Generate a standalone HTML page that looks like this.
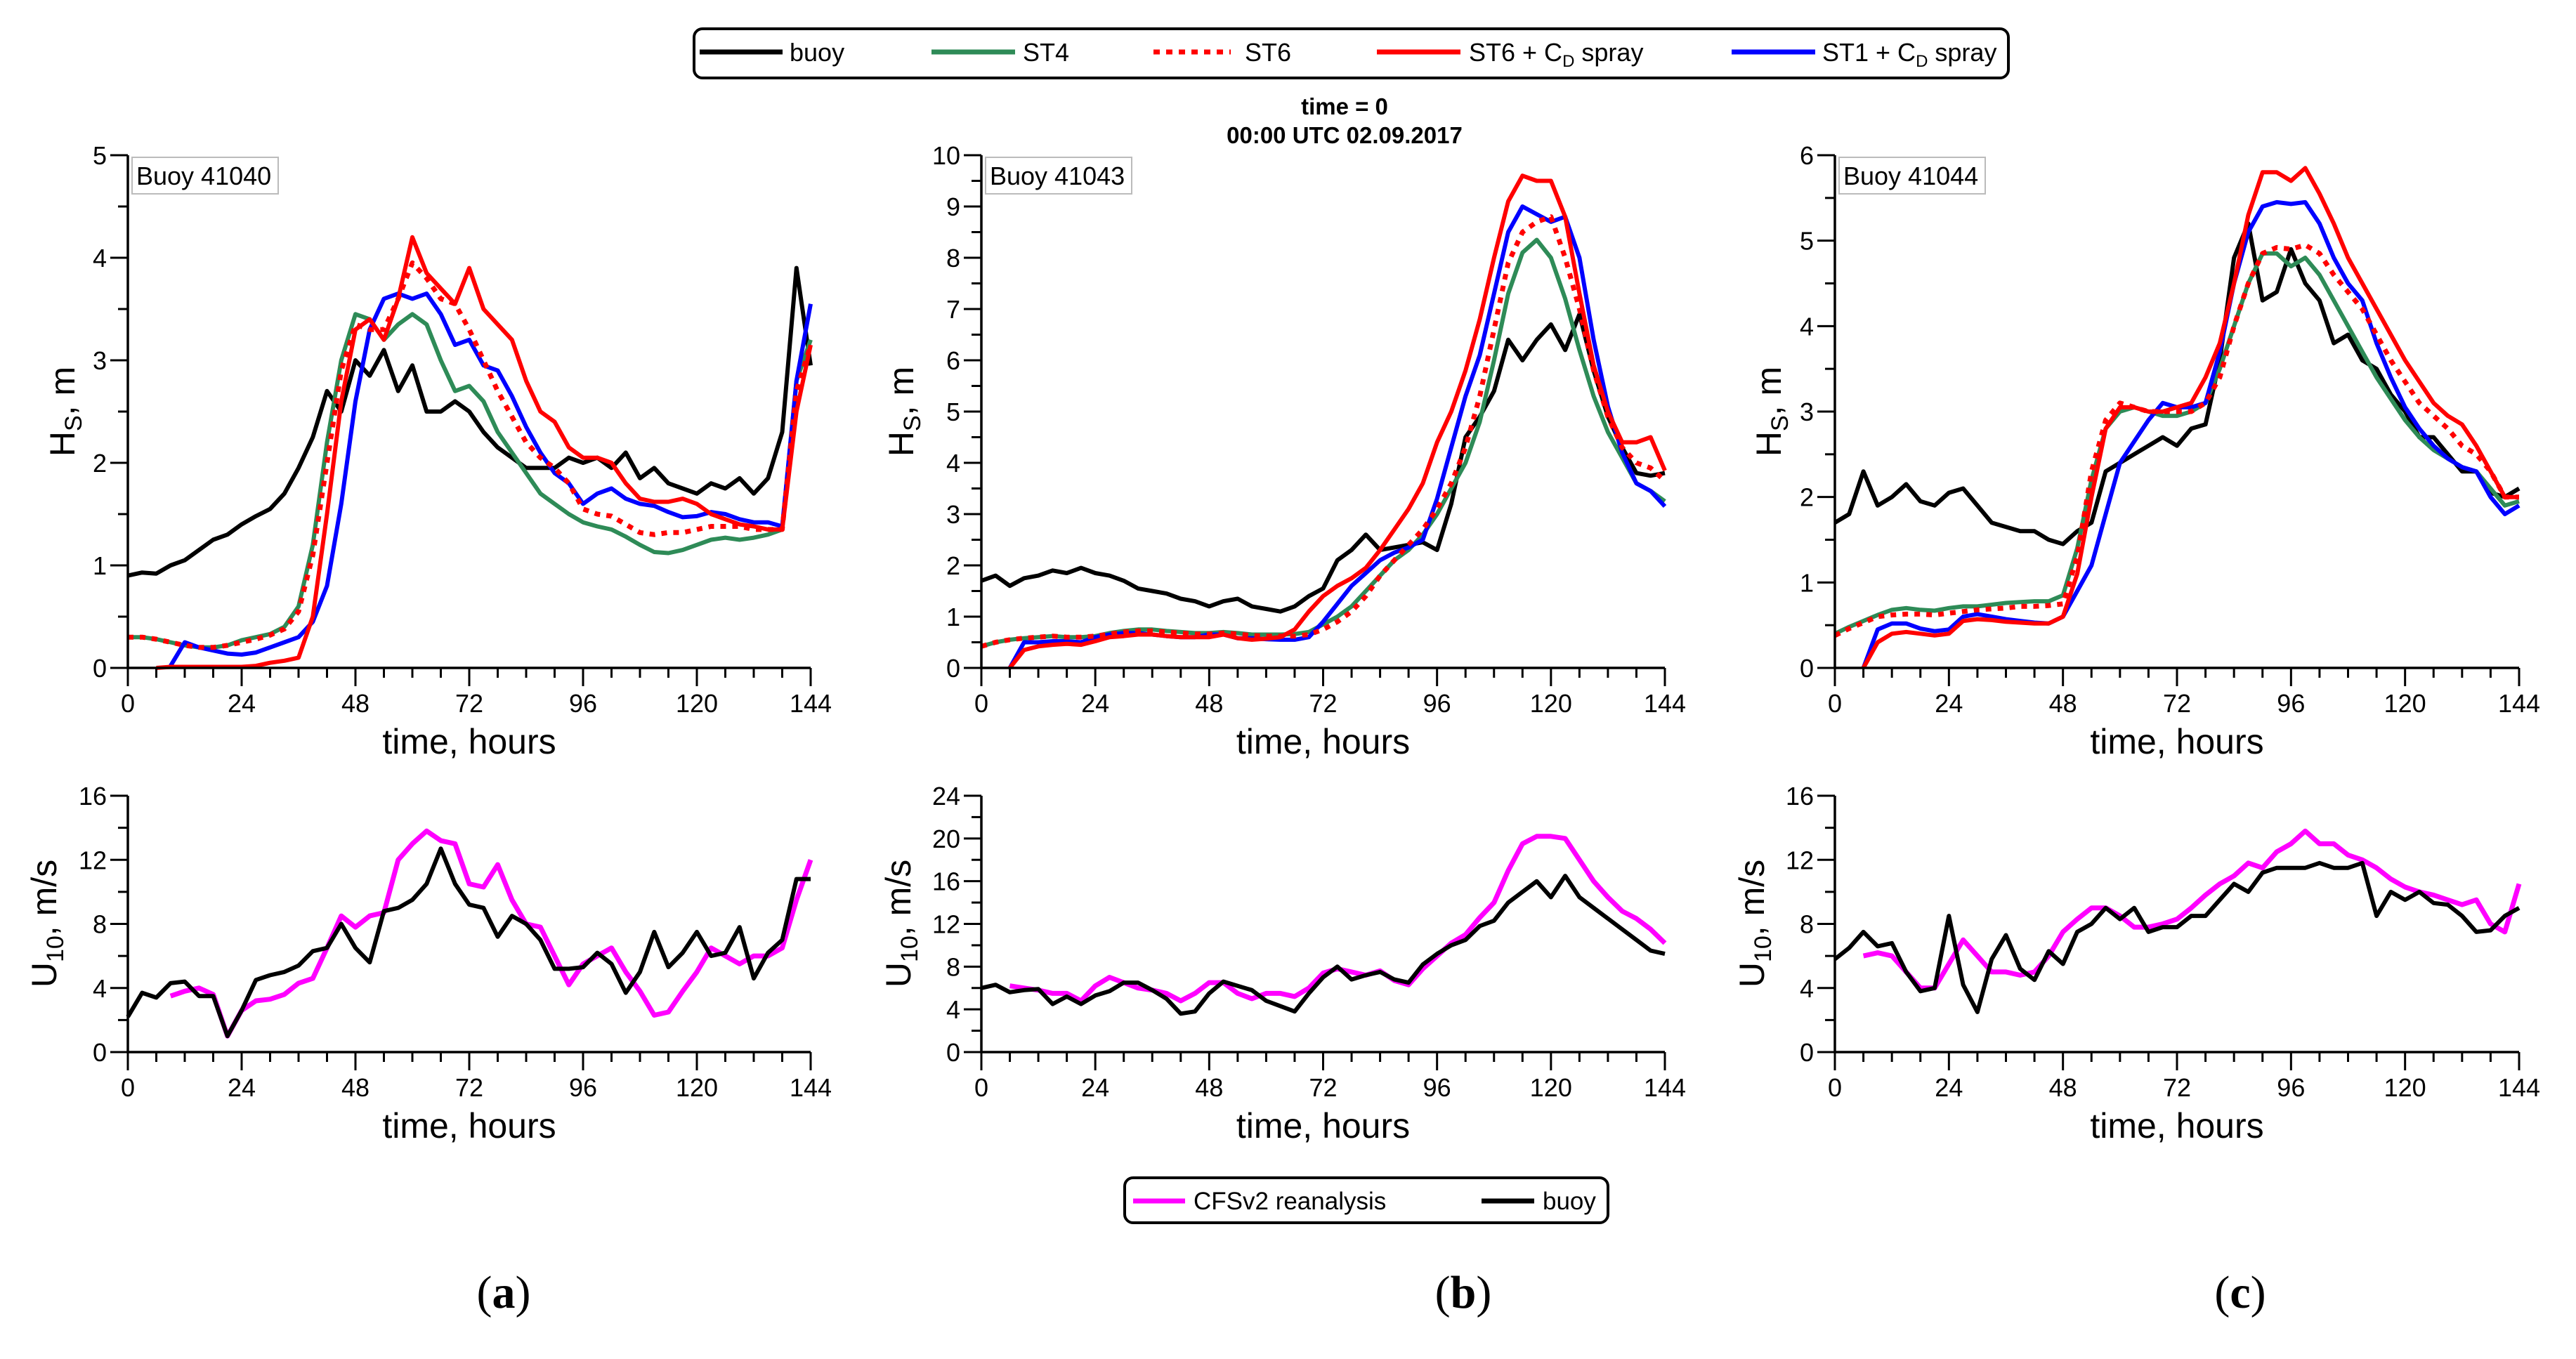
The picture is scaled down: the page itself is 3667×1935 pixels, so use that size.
<!DOCTYPE html>
<html><head><meta charset="utf-8">
<style>
html,body{margin:0;padding:0;background:#fff;}
svg{display:block;font-family:"Liberation Sans",Arial,sans-serif;}
</style></head>
<body>
<svg id="fig" width="3667" height="1935" viewBox="0 0 3667 1935" xmlns="http://www.w3.org/2000/svg">
  <rect x="0" y="0" width="3667" height="1935" fill="#fff"/>
  <g id="top-legend">
    <rect x="988" y="41" width="1871" height="70" rx="12" fill="#fff" stroke="#000" stroke-width="4"/>
    <line x1="996" y1="74" x2="1114" y2="74" stroke="#000" stroke-width="7"/>
    <text x="1124" y="87" font-size="36">buoy</text>
    <line x1="1326" y1="74" x2="1445" y2="74" stroke="#2e8b57" stroke-width="7"/>
    <text x="1456" y="87" font-size="36">ST4</text>
    <line x1="1642" y1="74" x2="1752" y2="74" stroke="#ff0000" stroke-width="7" stroke-dasharray="9,9"/>
    <text x="1772" y="87" font-size="36">ST6</text>
    <line x1="1960" y1="74" x2="2079" y2="74" stroke="#ff0000" stroke-width="7"/>
    <text x="2091" y="87" font-size="36">ST6 + C<tspan font-size="24" dy="8">D</tspan><tspan dy="-8"> spray</tspan></text>
    <line x1="2465" y1="74" x2="2584" y2="74" stroke="#0000ff" stroke-width="7"/>
    <text x="2594" y="87" font-size="36">ST1 + C<tspan font-size="24" dy="8">D</tspan><tspan dy="-8"> spray</tspan></text>
  </g>
  <text x="1914" y="163" font-size="33" font-weight="bold" text-anchor="middle">time = 0</text>
  <text x="1914" y="204" font-size="33" font-weight="bold" text-anchor="middle">00:00 UTC 02.09.2017</text>
  <g id="bottom-legend">
    <rect x="1601" y="1677" width="688" height="64" rx="12" fill="#fff" stroke="#000" stroke-width="4"/>
    <line x1="1613" y1="1710" x2="1687" y2="1710" stroke="#ff00ff" stroke-width="7"/>
    <text x="1699" y="1722" font-size="35">CFSv2 reanalysis</text>
    <line x1="2109" y1="1710" x2="2184" y2="1710" stroke="#000" stroke-width="7"/>
    <text x="2196" y="1722" font-size="35">buoy</text>
  </g>
  <text x="717" y="1862" font-size="66" text-anchor="middle" font-family="Liberation Serif,serif">(<tspan font-weight="bold">a</tspan>)</text>
  <text x="2083" y="1862" font-size="66" text-anchor="middle" font-family="Liberation Serif,serif">(<tspan font-weight="bold">b</tspan>)</text>
  <text x="3189" y="1862" font-size="66" text-anchor="middle" font-family="Liberation Serif,serif">(<tspan font-weight="bold">c</tspan>)</text>
</svg>
<script>
// time grid (hours), 3-hourly
const hours = [0,3,6,9,12,15,18,21,24,27,30,33,36,39,42,45,48,51,54,57,60,63,66,69,72,75,78,81,84,87,90,93,96,99,102,105,108,111,114,117,120,123,126,129,132,135,138,141,144];
const xTicks = [0,24,48,72,96,120,144];
const n = null;

// Panel a: Buoy 41040 Hs
const aBuoy = [0.9,0.93,0.92,1.0,1.05,1.15,1.25,1.3,1.4,1.48,1.55,1.7,1.95,2.25,2.7,2.5,3.0,2.85,3.1,2.7,2.95,2.5,2.5,2.6,2.5,2.3,2.15,2.05,1.95,1.95,1.95,2.05,2.0,2.05,1.95,2.1,1.85,1.95,1.8,1.75,1.7,1.8,1.75,1.85,1.7,1.85,2.3,3.9,2.95];
const aST4 = [0.3,0.3,0.28,0.25,0.22,0.2,0.2,0.22,0.27,0.3,0.33,0.4,0.6,1.2,2.2,3.0,3.45,3.4,3.2,3.35,3.45,3.35,3.0,2.7,2.75,2.6,2.3,2.1,1.9,1.7,1.6,1.5,1.42,1.38,1.35,1.28,1.2,1.13,1.12,1.15,1.2,1.25,1.27,1.25,1.27,1.3,1.35,2.8,3.2];
const aST6 = [0.3,0.3,0.28,0.25,0.22,0.2,0.2,0.22,0.25,0.28,0.32,0.38,0.55,1.1,2.0,2.9,3.35,3.3,3.3,3.6,3.95,3.8,3.6,3.55,3.3,3.0,2.7,2.45,2.2,2.05,1.95,1.8,1.55,1.5,1.48,1.4,1.32,1.3,1.32,1.32,1.35,1.38,1.38,1.38,1.35,1.35,1.35,2.7,3.15];
const aST6CD = [n,n,0,0.01,0.01,0.01,0.01,0.01,0.01,0.02,0.05,0.07,0.1,0.5,1.5,2.6,3.3,3.4,3.2,3.6,4.2,3.85,3.7,3.55,3.9,3.5,3.35,3.2,2.8,2.5,2.4,2.15,2.05,2.05,2.0,1.8,1.65,1.62,1.62,1.65,1.6,1.5,1.45,1.4,1.38,1.35,1.35,2.5,3.15];
const aST1CD = [n,n,n,0.02,0.25,0.2,0.17,0.14,0.13,0.15,0.2,0.25,0.3,0.45,0.8,1.6,2.6,3.3,3.6,3.65,3.6,3.65,3.45,3.15,3.2,2.95,2.9,2.65,2.35,2.1,1.9,1.8,1.6,1.7,1.75,1.65,1.6,1.58,1.52,1.47,1.48,1.52,1.5,1.45,1.42,1.42,1.38,2.8,3.55];

// Panel b: Buoy 41043 Hs
const bBuoy = [1.7,1.8,1.6,1.75,1.8,1.9,1.85,1.95,1.85,1.8,1.7,1.55,1.5,1.45,1.35,1.3,1.2,1.3,1.35,1.2,1.15,1.1,1.2,1.4,1.55,2.1,2.3,2.6,2.3,2.35,2.4,2.45,2.3,3.2,4.5,4.9,5.4,6.4,6.0,6.4,6.7,6.2,6.9,5.8,4.9,4.3,3.8,3.75,3.8];
const bST4 = [0.42,0.5,0.55,0.58,0.6,0.62,0.6,0.6,0.62,0.68,0.72,0.75,0.75,0.72,0.7,0.68,0.68,0.7,0.68,0.65,0.65,0.65,0.66,0.7,0.85,1.0,1.2,1.5,1.8,2.1,2.3,2.6,3.0,3.5,4.0,4.8,6.0,7.3,8.1,8.35,8.0,7.2,6.2,5.3,4.6,4.1,3.6,3.45,3.25];
const bST6 = [0.42,0.5,0.55,0.58,0.6,0.62,0.6,0.6,0.62,0.66,0.7,0.72,0.72,0.7,0.68,0.66,0.66,0.68,0.66,0.63,0.62,0.62,0.62,0.65,0.75,0.9,1.1,1.4,1.8,2.1,2.4,2.7,3.1,3.6,4.3,5.3,6.6,7.9,8.5,8.7,8.8,8.0,7.0,5.8,4.9,4.3,4.0,3.9,3.65];
const bST6CD = [n,n,0,0.35,0.42,0.45,0.47,0.45,0.52,0.6,0.62,0.65,0.65,0.62,0.6,0.6,0.6,0.65,0.58,0.55,0.57,0.6,0.75,1.1,1.4,1.6,1.75,1.95,2.3,2.7,3.1,3.6,4.4,5.0,5.8,6.8,8.0,9.1,9.6,9.5,9.5,8.8,7.3,5.9,5.0,4.4,4.4,4.5,3.85];
const bST1CD = [n,n,0,0.5,0.5,0.52,0.52,0.5,0.6,0.65,0.68,0.68,0.65,0.62,0.6,0.6,0.65,0.65,0.58,0.58,0.56,0.55,0.55,0.6,0.9,1.25,1.6,1.85,2.1,2.25,2.35,2.5,3.3,4.3,5.3,6.1,7.3,8.5,9.0,8.85,8.7,8.8,8.0,6.4,5.1,4.2,3.6,3.45,3.15];

// Panel c: Buoy 41044 Hs
const cBuoy = [1.7,1.8,2.3,1.9,2.0,2.15,1.95,1.9,2.05,2.1,1.9,1.7,1.65,1.6,1.6,1.5,1.45,1.6,1.7,2.3,2.4,2.5,2.6,2.7,2.6,2.8,2.85,3.6,4.8,5.2,4.3,4.4,4.9,4.5,4.3,3.8,3.9,3.6,3.5,3.2,3.0,2.7,2.7,2.5,2.3,2.3,2.05,2.0,2.1];
const cST4 = [0.4,0.48,0.55,0.62,0.68,0.7,0.68,0.67,0.7,0.72,0.72,0.74,0.76,0.77,0.78,0.78,0.85,1.4,2.2,2.8,3.0,3.05,3.0,2.95,2.95,3.0,3.1,3.5,4.0,4.5,4.85,4.85,4.7,4.8,4.6,4.3,4.0,3.7,3.4,3.15,2.9,2.7,2.55,2.45,2.35,2.3,2.1,1.9,1.95];
const cST6 = [0.38,0.46,0.53,0.6,0.62,0.63,0.63,0.62,0.64,0.66,0.68,0.69,0.7,0.72,0.72,0.73,0.75,1.3,2.3,2.9,3.1,3.05,3.0,3.0,3.0,3.0,3.1,3.4,4.0,4.5,4.85,4.92,4.9,4.95,4.85,4.6,4.4,4.2,3.9,3.6,3.35,3.1,2.95,2.8,2.6,2.5,2.3,2.0,2.0];
const cST6CD = [n,n,0,0.3,0.4,0.42,0.4,0.38,0.4,0.55,0.57,0.56,0.54,0.53,0.52,0.52,0.6,1.1,2.0,2.8,3.05,3.05,3.0,3.0,3.05,3.1,3.4,3.8,4.5,5.3,5.8,5.8,5.7,5.85,5.55,5.2,4.8,4.5,4.2,3.9,3.6,3.35,3.1,2.95,2.85,2.6,2.3,2.0,2.0];
const cST1CD = [n,n,0,0.45,0.52,0.52,0.46,0.43,0.45,0.6,0.63,0.6,0.57,0.55,0.53,0.52,0.6,0.9,1.2,1.8,2.4,2.65,2.9,3.1,3.05,3.05,3.1,3.7,4.5,5.1,5.4,5.45,5.43,5.45,5.2,4.8,4.5,4.3,3.8,3.4,3.05,2.8,2.6,2.45,2.35,2.3,2.0,1.8,1.9];

// Wind U10
const aWindBuoy = [2.2,3.7,3.4,4.3,4.4,3.5,3.5,1.0,2.6,4.5,4.8,5.0,5.4,6.3,6.5,8.0,6.5,5.6,8.8,9.0,9.5,10.5,12.7,10.5,9.2,9.0,7.2,8.5,8.0,7.0,5.2,5.2,5.3,6.2,5.5,3.7,5.0,7.5,5.3,6.2,7.5,6.0,6.2,7.8,4.6,6.2,7.0,10.8,10.8];
const aWindCFS = [n,n,n,3.5,3.8,4.0,3.6,1.0,2.6,3.2,3.3,3.6,4.3,4.6,6.5,8.5,7.8,8.5,8.7,12.0,13.0,13.8,13.2,13.0,10.5,10.3,11.7,9.5,8.0,7.8,6.0,4.2,5.5,6.0,6.5,5.0,3.8,2.3,2.5,3.8,5.0,6.5,6.0,5.5,6.0,6.0,6.5,9.5,12.0];
const bWindBuoy = [6.0,6.3,5.6,5.8,5.9,4.5,5.2,4.5,5.3,5.7,6.5,6.5,5.8,5.0,3.6,3.8,5.5,6.6,6.2,5.8,4.8,4.3,3.8,5.5,7.0,8.0,6.8,7.2,7.5,6.8,6.5,8.2,9.2,10.0,10.5,11.8,12.3,14.0,15.0,16.0,14.5,16.5,14.5,13.5,12.5,11.5,10.5,9.5,9.2];
const bWindCFS = [n,n,6.2,6.0,5.8,5.5,5.5,4.8,6.2,7.0,6.5,6.0,5.8,5.5,4.8,5.5,6.5,6.5,5.5,5.0,5.5,5.5,5.2,6.0,7.4,7.8,7.5,7.2,7.6,6.7,6.3,7.8,9.0,10.2,11.0,12.6,14.0,17.0,19.5,20.2,20.2,20.0,18.0,16.0,14.5,13.2,12.5,11.5,10.2];
const cWindBuoy = [5.8,6.5,7.5,6.6,6.8,5.0,3.8,4.0,8.5,4.2,2.5,5.8,7.3,5.2,4.5,6.3,5.5,7.5,8.0,9.0,8.3,9.0,7.5,7.8,7.8,8.5,8.5,9.5,10.5,10.0,11.2,11.5,11.5,11.5,11.8,11.5,11.5,11.8,8.5,10.0,9.5,10.0,9.3,9.2,8.5,7.5,7.6,8.5,9.0];
const cWindCFS = [n,n,6.0,6.2,6.0,5.0,4.0,4.0,5.5,7.0,6.0,5.0,5.0,4.8,5.0,6.0,7.5,8.3,9.0,9.0,8.5,7.8,7.8,8.0,8.3,9.0,9.8,10.5,11.0,11.8,11.5,12.5,13.0,13.8,13.0,13.0,12.3,12.0,11.5,10.8,10.3,10.0,9.8,9.5,9.2,9.5,8.0,7.5,10.5];

// y tick labels
const aHsTicks = [0,1,2,3,4,5];
const bHsTicks = [0,1,2,3,4,5,6,7,8,9,10];
const cHsTicks = [0,1,2,3,4,5,6];
const aWindTicks = [0,4,8,12,16];
const bWindTicks = [0,4,8,12,16,20,24];
const cWindTicks = [0,4,8,12,16];

const NS = "http://www.w3.org/2000/svg";
const svg = document.getElementById('fig');
function mk(tag, attrs, parent){
  const e = document.createElementNS(NS, tag);
  for (const k in attrs) e.setAttribute(k, attrs[k]);
  (parent||svg).appendChild(e);
  return e;
}

function drawPanel(p){
  const g = mk('g', {});
  
  
  const x0=p.x0, x1=p.x1, yb=p.yb, yt=p.yt;
  const ymax = p.yTicks[p.yTicks.length-1];
  const sx = t => x0 + (t/144)*(x1-x0);
  const sy = v => yb - (v/ymax)*(yb-yt);
  // series
  p.series.forEach(s=>{
    let d='', pen=false;
    hours.forEach((t,i)=>{
      const v=s.data[i];
      if (v===null){pen=false;return;}
      d += (pen?'L':'M') + sx(t).toFixed(1)+','+sy(v).toFixed(1)+' ';
      pen=true;
    });
    const path = mk('path', {d:d, fill:'none', stroke:s.color, 'stroke-width':s.w||6, 'stroke-linejoin':'round', 'stroke-dasharray':s.dash||'none'}, g);
    
    
  });
  // axes
  const ax = mk('path', {d:`M${x0},${yt} L${x0},${yb} L${x1},${yb}`, fill:'none', stroke:'#000', 'stroke-width':3.5}, g);
  
  
  // x ticks (major every 24, minor every 6)
  for (let t=0;t<=144;t+=6){
    const major = t%24===0;
    mk('line', {x1:sx(t), y1:yb, x2:sx(t), y2:yb+(major?26:14), stroke:'#000','stroke-width':3}, g);
  }
  xTicks.forEach(t=>{
    const tx = mk('text', {x:sx(t), y:yb+63, 'font-size':p.tickFs, 'text-anchor':'middle'}, g);
    
    
    tx.textContent = t;
  });
  // y ticks
  const step = p.yTicks[1]-p.yTicks[0];
  for (let v=0; v<=ymax+1e-9; v+=step/2){
    const major = Math.abs(v/step - Math.round(v/step))<1e-6;
    mk('line', {x1:x0-(major?25:14), y1:sy(v), x2:x0, y2:sy(v), stroke:'#000','stroke-width':3}, g);
  }
  p.yTicks.forEach(v=>{
    const ty = mk('text', {x:x0-30, y:sy(v)+13, 'font-size':p.tickFs, 'text-anchor':'end'}, g);
    
    
    ty.textContent = v;
  });
  const xl = mk('text', {x:(x0+x1)/2, y:yb+122, 'font-size':50, 'text-anchor':'middle'}, g);
  
  
  xl.textContent = 'time, hours';
  const yl = mk('text', {transform:`translate(${p.ylx},${p.yly}) rotate(-90)`, 'font-size':50, 'text-anchor':'middle'}, g);
  
  
  if (p.kind==='hs'){
    yl.innerHTML = 'H<tspan font-size="34" dy="10">S</tspan><tspan dy="-10">, m</tspan>';
  } else {
    yl.innerHTML = 'U<tspan font-size="34" dy="10">10</tspan><tspan dy="-10">,  m/s</tspan>';
  }
  if (p.buoyLabel){
    const bx = mk('rect', {x:x0+6, y:yt+3, width:208, height:52, fill:'#fff', stroke:'#bbb','stroke-width':2}, g);
    
    
    const bt = mk('text', {x:x0+12, y:yt+42, 'font-size':36}, g);
    
    
    bt.textContent = p.buoyLabel;
  }
}

const cols = [{x0:182,x1:1154,hy:88,wy:62},{x0:1397,x1:2370,hy:1282,wy:1278},{x0:2612,x1:3586,hy:2517,wy:2493}];
const hsData = [
  {b:aBuoy,s4:aST4,s6:aST6,s6c:aST6CD,s1c:aST1CD,ticks:aHsTicks,lab:'Buoy 41040'},
  {b:bBuoy,s4:bST4,s6:bST6,s6c:bST6CD,s1c:bST1CD,ticks:bHsTicks,lab:'Buoy 41043'},
  {b:cBuoy,s4:cST4,s6:cST6,s6c:cST6CD,s1c:cST1CD,ticks:cHsTicks,lab:'Buoy 41044'}
];
const windData = [
  {b:aWindBuoy,c:aWindCFS,ticks:aWindTicks},
  {b:bWindBuoy,c:bWindCFS,ticks:bWindTicks},
  {b:cWindBuoy,c:cWindCFS,ticks:cWindTicks}
];
const letters=['a','b','c'];
cols.forEach((c,i)=>{
  const h=hsData[i];
  drawPanel({name:'hs-panel-'+letters[i], kind:'hs', x0:c.x0, x1:c.x1, yt:221, yb:951, yTicks:h.ticks, tickFs:36,
    ylx:c.hy+18, yly:586, buoyLabel:h.lab,
    series:[
      {name:'buoy-line', data:h.b, color:'#000'},
      {name:'st4-line', data:h.s4, color:'#2e8b57'},
      {name:'st1-cd-spray-line', data:h.s1c, color:'#0000ff'},
      {name:'st6-cd-spray-line', data:h.s6c, color:'#ff0000'},
      {name:'st6-line', data:h.s6, color:'#ff0000', dash:'8,9', w:7}
    ]});
  const w=windData[i];
  drawPanel({name:'wind-panel-'+letters[i], kind:'wind', x0:c.x0, x1:c.x1, yt:1133, yb:1498, yTicks:w.ticks, tickFs:36,
    ylx:c.wy+18, yly:1315,
    series:[
      {name:'cfsv2-line', data:w.c, color:'#ff00ff', w:7},
      {name:'buoy-wind-line', data:w.b, color:'#000', w:6}
    ]});
});
</script>
</body></html>
